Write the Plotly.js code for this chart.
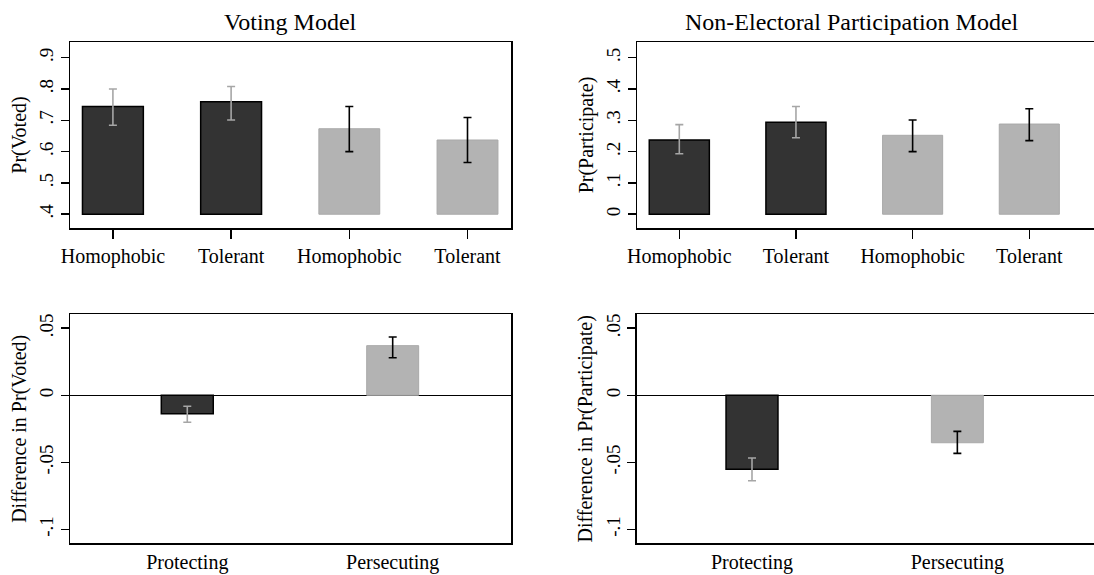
<!DOCTYPE html>
<html>
<head>
<meta charset="utf-8">
<script src="https://cdn.plot.ly/plotly-3.0.1.min.js"></script>
<style>
html,body{margin:0;padding:0;background:#fff;overflow:hidden;}
#chart{width:1120px;height:575px;}
</style>
</head>
<body>
<div id="chart"></div>
<script>
// ---- data ----
const countryGroup = ['Protecting', 'Protecting', 'Persecuting', 'Persecuting'];
const attitudeLabels = ['Homophobic', 'Tolerant', 'Homophobic', 'Tolerant'];

const votedPr = [0.744, 0.759, 0.673, 0.637];
const votedLo = [0.684, 0.701, 0.600, 0.565];
const votedHi = [0.800, 0.808, 0.744, 0.709];

const participatePr = [0.237, 0.294, 0.252, 0.288];
const participateLo = [0.193, 0.244, 0.200, 0.235];
const participateHi = [0.286, 0.344, 0.301, 0.337];

const diffLabels = ['Protecting', 'Persecuting'];
const votedDiff = [-0.0137, 0.0370];
const votedDiffLo = [-0.0201, 0.0280];
const votedDiffHi = [-0.0082, 0.0435];

const participateDiff = [-0.0552, -0.0354];
const participateDiffLo = [-0.0637, -0.0433];
const participateDiffHi = [-0.0468, -0.0269];

const topTicks = {
  voted: {vals: [0.4, 0.5, 0.6, 0.7, 0.8, 0.9], text: ['.4', '.5', '.6', '.7', '.8', '.9']},
  participate: {vals: [0, 0.1, 0.2, 0.3, 0.4, 0.5], text: ['0', '.1', '.2', '.3', '.4', '.5']}
};
const diffTicks = {vals: [-0.1, -0.05, 0, 0.05], text: ['-.1', '-.05', '0', '.05']};
const votedBase = 0.4;
const participateBase = 0;

// ---- styles ----
const FONT = 'Liberation Serif, Times New Roman, serif';
const DARK = '#333333', LIGHT = '#b3b3b3';
const style = {
  Protecting: {fill: DARK, line: '#000000', lw: 1.5, err: '#a6a6a6'},
  Persecuting: {fill: LIGHT, line: '#a9a9a9', lw: 1, err: '#000000'}
};

function barTraces(pr, lo, hi, groups, base, xa, ya, width) {
  const out = [];
  ['Protecting', 'Persecuting'].forEach(g => {
    const idx = groups.map((v, i) => v === g ? i : -1).filter(i => i >= 0);
    const s = style[g];
    out.push({
      type: 'bar',
      x: idx.map(i => i + 1),
      y: idx.map(i => pr[i] - base),
      base: idx.map(() => base),
      width: width,
      xaxis: xa, yaxis: ya,
      marker: {color: s.fill, line: {color: s.line, width: s.lw}},
      error_y: {
        type: 'data', symmetric: false,
        array: idx.map(i => hi[i] - pr[i]),
        arrayminus: idx.map(i => pr[i] - lo[i]),
        color: s.err, thickness: 1.6, width: 4
      },
      showlegend: false, hoverinfo: 'skip'
    });
  });
  return out;
}

const traces = [
  ...barTraces(votedPr, votedLo, votedHi, countryGroup, votedBase, 'x', 'y', 0.515),
  ...barTraces(participatePr, participateLo, participateHi, countryGroup, participateBase, 'x2', 'y2', 0.515),
  ...barTraces(votedDiff, votedDiffLo, votedDiffHi, diffLabels, 0, 'x3', 'y3', 0.253),
  ...barTraces(participateDiff, participateDiffLo, participateDiffHi, diffLabels, 0, 'x4', 'y4', 0.253)
];

const W = 1120, H = 575;
const px = v => v / W, py = v => 1 - v / H;

function xAxis(domain, range, labels, anchor, withTicks) {
  return {
    domain: domain, range: range, anchor: anchor,
    tickvals: labels.map((_, i) => i + 1), ticktext: labels,
    ticks: withTicks ? 'outside' : '', ticklen: 9, tickwidth: 1.5, tickcolor: '#000',
    showline: true, linecolor: '#000', linewidth: 1.5, mirror: true,
    showgrid: false, zeroline: false, automargin: false, fixedrange: true,
    tickfont: {family: FONT, size: 20, color: '#000'}
  };
}
function yAxis(domain, range, ticks, title, anchor, zero) {
  return {
    domain: domain, range: range, anchor: anchor,
    tickvals: ticks.vals, ticktext: ticks.text, tickangle: -90,
    ticks: 'outside', ticklen: 8, tickwidth: 1.5, tickcolor: '#000',
    showline: true, linecolor: '#000', linewidth: 1.5, mirror: true,
    showgrid: false, zeroline: zero, zerolinecolor: '#000', zerolinewidth: 1.2,
    automargin: false, fixedrange: true,
    tickfont: {family: FONT, size: 19, color: '#000'},
    title: {text: title, font: {family: FONT, size: 20, color: '#000'}, standoff: 4}
  };
}

const topY = [py(228), py(42)];
const botY = [py(543.3), py(314.3)];

const layout = {
  width: W, height: H,
  margin: {l: 0, r: 0, t: 0, b: 0},
  paper_bgcolor: '#fff', plot_bgcolor: '#fff',
  barmode: 'overlay',
  showlegend: false,
  xaxis: xAxis([px(70), px(511)], [0.637, 4.368], attitudeLabels, 'y', true),
  yaxis: yAxis(topY, [0.356, 0.95], topTicks.voted, 'Pr(Voted)', 'x', false),
  xaxis2: xAxis([px(637.3), px(1105)], [0.64, 4.649], attitudeLabels, 'y2', true),
  yaxis2: yAxis(topY, [-0.044, 0.55], topTicks.participate, 'Pr(Participate)', 'x2', false),
  xaxis3: xAxis([px(70), px(511)], [0.429, 2.576], diffLabels, 'y3', false),
  yaxis3: yAxis(botY, [-0.1104, 0.0604], diffTicks, 'Difference in Pr(Voted)', 'x3', true),
  xaxis4: xAxis([px(636.7), px(1105)], [0.4385, 2.719], diffLabels, 'y4', false),
  yaxis4: yAxis(botY, [-0.1104, 0.0604], diffTicks, 'Difference in Pr(Participate)', 'x4', true),
  annotations: [
    {text: 'Voting Model', xref: 'paper', yref: 'paper', x: px(290), y: py(22),
     xanchor: 'center', yanchor: 'middle', showarrow: false,
     font: {family: FONT, size: 24, color: '#000'}},
    {text: 'Non-Electoral Participation Model', xref: 'paper', yref: 'paper', x: px(852), y: py(22),
     xanchor: 'center', yanchor: 'middle', showarrow: false,
     font: {family: FONT, size: 24, color: '#000'}}
  ]
};

Plotly.newPlot('chart', traces, layout, {staticPlot: true, displayModeBar: false});
</script>
</body>
</html>
